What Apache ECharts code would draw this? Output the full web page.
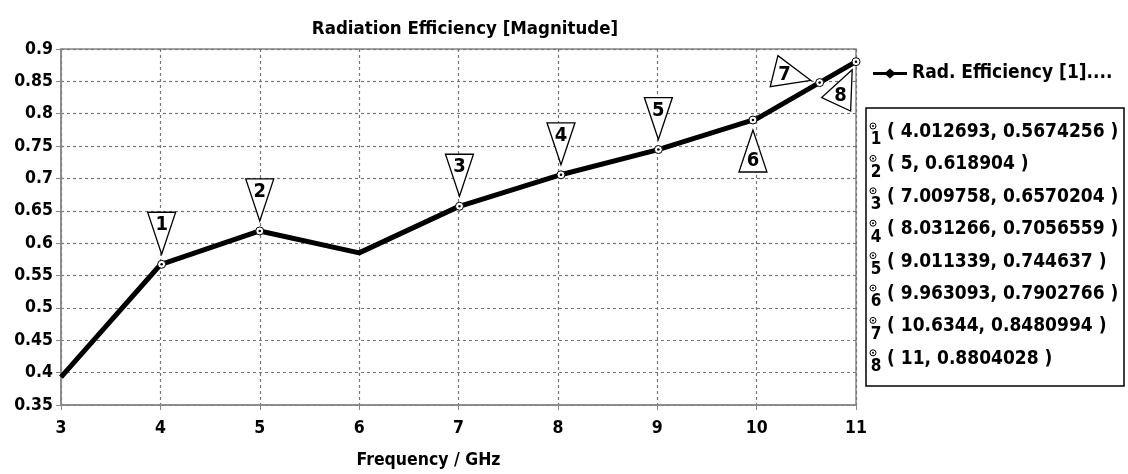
<!DOCTYPE html>
<html>
<head>
<meta charset="utf-8">
<script src="https://cdn.jsdelivr.net/npm/echarts@6/dist/echarts.min.js"></script>
<style>
html,body{margin:0;padding:0;background:#fff;}
#chart{width:1128px;height:474px;}
</style>
</head>
<body>
<div id="chart"></div>
<script>
// ---- data ----
const titleText = 'Radiation Efficiency [Magnitude]';
const xAxisName = 'Frequency / GHz';
const seriesName = 'Rad. Efficiency [1]....';
const freq = [3, 4, 5, 6, 7, 8, 9, 10, 11];
const efficiency = [0.393, 0.5667, 0.6189, 0.585, 0.6565, 0.7045, 0.7441, 0.7921, 0.8804];
const markerIds = ['1', '2', '3', '4', '5', '6', '7', '8'];
const markerX = [4.012693, 5, 7.009758, 8.031266, 9.011339, 9.963093, 10.6344, 11];
const markerY = [0.5674256, 0.618904, 0.6570204, 0.7056559, 0.744637, 0.7902766, 0.8480994, 0.8804028];
// direction (screen degrees) from each marker point to its flag triangle
const markerDir = [-90, -90, -90, -90, -90, 90, 194, 115];
const xTicks = [3, 4, 5, 6, 7, 8, 9, 10, 11];
const yTicks = [0.35, 0.4, 0.45, 0.5, 0.55, 0.6, 0.65, 0.7, 0.75, 0.8, 0.85, 0.9];

const FONT = '"DejaVu Sans Condensed", "DejaVu Sans", sans-serif';

const lineData = freq.map((f, i) => [f, efficiency[i]]);
const markerData = markerX.map((x, i) => [x, markerY[i], i]);

function renderMarker(params, api) {
  const i = api.value(2);
  const pt = api.coord([api.value(0), api.value(1)]);
  const small = i >= 6;
  const gap = small ? 9 : 10;
  const h = small ? 38 : 42;
  const w = small ? 32 : 28;
  const a = markerDir[i] * Math.PI / 180;
  const dx = Math.cos(a), dy = Math.sin(a);
  const px = -dy, py = dx;
  const apex = [pt[0] + dx * gap, pt[1] + dy * gap];
  const bc = [pt[0] + dx * (gap + h), pt[1] + dy * (gap + h)];
  const b1 = [bc[0] + px * w / 2, bc[1] + py * w / 2];
  const b2 = [bc[0] - px * w / 2, bc[1] - py * w / 2];
  const lp = [pt[0] + dx * (gap + h * 0.72), pt[1] + dy * (gap + h * 0.72)];
  return {
    type: 'group',
    children: [
      {
        type: 'polygon',
        shape: { points: [apex, b1, b2] },
        style: { fill: '#fff', stroke: '#000', lineWidth: 1.3 }
      },
      {
        type: 'text',
        style: {
          text: markerIds[i], x: lp[0], y: lp[1] + 1,
          align: 'center', verticalAlign: 'middle',
          font: 'bold 20px ' + FONT, fill: '#000'
        }
      },
      {
        type: 'circle',
        shape: { cx: pt[0], cy: pt[1], r: 4 },
        style: { fill: '#fff', stroke: '#000', lineWidth: 1 }
      },
      {
        type: 'circle',
        shape: { cx: pt[0], cy: pt[1], r: 1.3 },
        style: { fill: '#000' }
      }
    ]
  };
}

// marker table (legend box)
const tableLeft = 866, tableTop = 108, tableW = 258, tableH = 278;
const rowTop = 132, rowStep = 32.4;
const tableGraphics = [{
  type: 'rect',
  shape: { x: tableLeft, y: tableTop, width: tableW, height: tableH },
  style: { fill: '#fff', stroke: '#000', lineWidth: 1.5 }
}];
markerIds.forEach((id, i) => {
  const y = rowTop + i * rowStep;
  tableGraphics.push({
    type: 'circle', shape: { cx: 873, cy: y - 6, r: 3 },
    style: { fill: '#fff', stroke: '#000', lineWidth: 1 }
  });
  tableGraphics.push({
    type: 'circle', shape: { cx: 873, cy: y - 6, r: 1 },
    style: { fill: '#000' }
  });
  tableGraphics.push({
    type: 'text', x: 876, y: y + 8,
    style: { text: id, font: 'bold 17px ' + FONT, fill: '#000', align: 'center', verticalAlign: 'middle' }
  });
  tableGraphics.push({
    type: 'text', x: 887, y: y,
    style: {
      text: '( ' + String(markerX[i]) + ', ' + String(markerY[i]) + ' )',
      font: 'bold 19px ' + FONT, fill: '#000', align: 'left', verticalAlign: 'middle'
    }
  });
});

const chart = echarts.init(document.getElementById('chart'), null, { renderer: 'canvas' });
chart.setOption({
  animation: false,
  backgroundColor: '#fff',
  title: {
    text: titleText,
    left: 460, top: 15, textAlign: 'center',
    textStyle: { fontFamily: FONT, fontWeight: 'bold', fontSize: 18.5, color: '#000' }
  },
  legend: {
    data: [seriesName],
    left: 868, top: 59,
    itemWidth: 34, itemHeight: 10, itemGap: 6,
    icon: 'path://M0,3.5 L13,3.5 L17,0 L21,3.5 L34,3.5 L34,6.5 L21,6.5 L17,10 L13,6.5 L0,6.5 Z',
    itemStyle: { color: '#000' },
    textStyle: { fontFamily: FONT, fontWeight: 'bold', fontSize: 19, color: '#000' },
    selectedMode: false
  },
  grid: { left: 61, right: 272, top: 49, bottom: 69, show: true, borderColor: '#888', borderWidth: 1.5 },
  xAxis: {
    type: 'value', min: 3, max: 11, interval: 1,
    name: xAxisName, nameLocation: 'middle', nameGap: 46,
    nameTextStyle: { fontFamily: FONT, fontWeight: 'bold', fontSize: 17.5, color: '#000', padding: [0, 60, 0, 0] },
    axisLine: { lineStyle: { color: '#888', width: 1.5 } },
    axisTick: { show: true, length: 5, lineStyle: { color: '#888' } },
    axisLabel: { fontFamily: FONT, fontWeight: 'bold', fontSize: 17.5, color: '#000', margin: 14,
      formatter: v => xTicks.includes(v) ? String(v) : '' },
    splitLine: { show: true, lineStyle: { color: '#777', type: [3, 3], width: 1.2 } }
  },
  yAxis: {
    type: 'value', min: 0.35, max: 0.9, interval: 0.05,
    axisLine: { show: true, lineStyle: { color: '#888', width: 1.5 } },
    axisTick: { show: true, length: 5, lineStyle: { color: '#888' } },
    axisLabel: { fontFamily: FONT, fontWeight: 'bold', fontSize: 17.5, color: '#000', margin: 8,
      formatter: v => { const t = yTicks.find(k => Math.abs(k - v) < 1e-6); return t === undefined ? '' : String(t); } },
    splitLine: { show: true, lineStyle: { color: '#777', type: [3, 3], width: 1.2 } }
  },
  graphic: tableGraphics,
  series: [
    {
      name: seriesName,
      type: 'line',
      data: lineData,
      showSymbol: false,
      symbol: 'none',
      lineStyle: { color: '#000', width: 5 },
      itemStyle: { color: '#000' },
      z: 3
    },
    {
      type: 'custom',
      data: markerData,
      renderItem: renderMarker,
      clip: false,
      z: 5,
      silent: true
    }
  ]
});
</script>
</body>
</html>
